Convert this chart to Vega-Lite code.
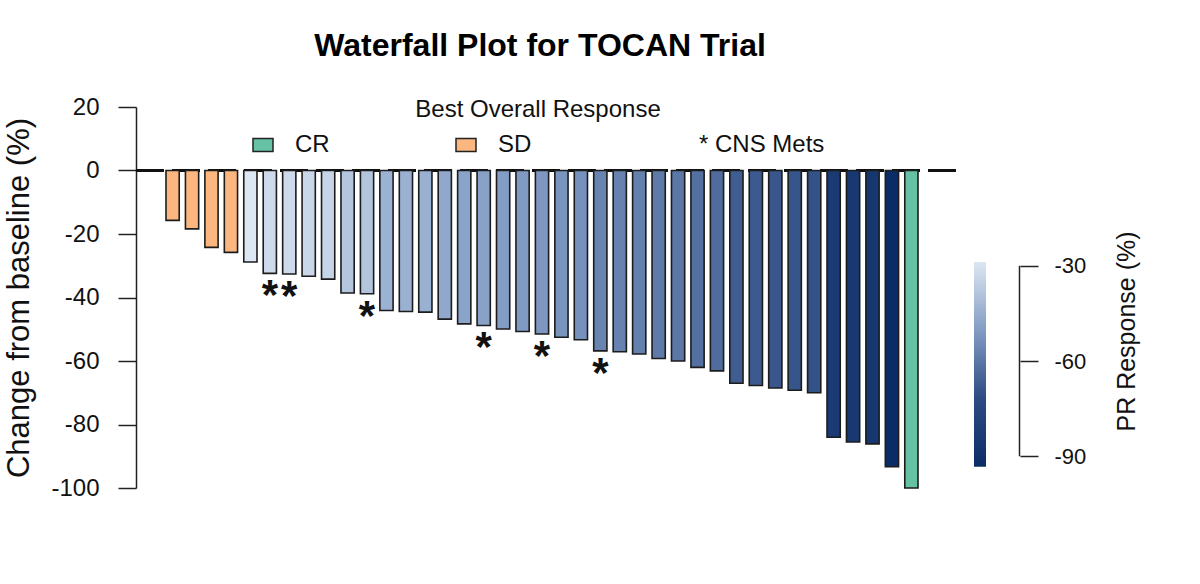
{
  "$schema": "https://vega.github.io/schema/vega-lite/v6.json",
  "autosize": {"type": "pad"},
  "padding": {"left": 3, "top": 30, "right": 5, "bottom": 5},
  "background": "white",
  "config": {
    "font": "Liberation Sans",
    "view": {"stroke": null},
    "axis": {"labelColor": "#111", "titleColor": "#111", "domainColor": "#222", "tickColor": "#222"}
  },
  "datasets": {
    "patients": [
      {"id": 1, "change": -15.7, "resp": "SD", "cns": false},
      {"id": 2, "change": -18.4, "resp": "SD", "cns": false},
      {"id": 3, "change": -24.2, "resp": "SD", "cns": false},
      {"id": 4, "change": -25.8, "resp": "SD", "cns": false},
      {"id": 5, "change": -28.8, "resp": "PR", "cns": false},
      {"id": 6, "change": -32.4, "resp": "PR", "cns": true},
      {"id": 7, "change": -32.6, "resp": "PR", "cns": true},
      {"id": 8, "change": -33.3, "resp": "PR", "cns": false},
      {"id": 9, "change": -34.2, "resp": "PR", "cns": false},
      {"id": 10, "change": -38.6, "resp": "PR", "cns": false},
      {"id": 11, "change": -38.8, "resp": "PR", "cns": true},
      {"id": 12, "change": -44.1, "resp": "PR", "cns": false},
      {"id": 13, "change": -44.4, "resp": "PR", "cns": false},
      {"id": 14, "change": -44.6, "resp": "PR", "cns": false},
      {"id": 15, "change": -46.8, "resp": "PR", "cns": false},
      {"id": 16, "change": -48.3, "resp": "PR", "cns": false},
      {"id": 17, "change": -48.8, "resp": "PR", "cns": true},
      {"id": 18, "change": -49.9, "resp": "PR", "cns": false},
      {"id": 19, "change": -50.7, "resp": "PR", "cns": false},
      {"id": 20, "change": -51.5, "resp": "PR", "cns": true},
      {"id": 21, "change": -52.5, "resp": "PR", "cns": false},
      {"id": 22, "change": -53.3, "resp": "PR", "cns": false},
      {"id": 23, "change": -56.8, "resp": "PR", "cns": true},
      {"id": 24, "change": -57.1, "resp": "PR", "cns": false},
      {"id": 25, "change": -57.8, "resp": "PR", "cns": false},
      {"id": 26, "change": -59.2, "resp": "PR", "cns": false},
      {"id": 27, "change": -60.0, "resp": "PR", "cns": false},
      {"id": 28, "change": -62.0, "resp": "PR", "cns": false},
      {"id": 29, "change": -63.1, "resp": "PR", "cns": false},
      {"id": 30, "change": -67.0, "resp": "PR", "cns": false},
      {"id": 31, "change": -67.7, "resp": "PR", "cns": false},
      {"id": 32, "change": -68.5, "resp": "PR", "cns": false},
      {"id": 33, "change": -69.2, "resp": "PR", "cns": false},
      {"id": 34, "change": -70.0, "resp": "PR", "cns": false},
      {"id": 35, "change": -84.0, "resp": "PR", "cns": false},
      {"id": 36, "change": -85.5, "resp": "PR", "cns": false},
      {"id": 37, "change": -86.1, "resp": "PR", "cns": false},
      {"id": 38, "change": -93.3, "resp": "PR", "cns": false},
      {"id": 39, "change": -100.0, "resp": "CR", "cns": false}
    ],
    "cbticks": [{"v": -30}, {"v": -60}, {"v": -90}]
  },
  "spacing": 18,
  "bounds": "flush",
  "hconcat": [
    {
      "width": 820,
      "height": 381,
      "data": {"name": "patients"},
      "title": {
        "text": "Waterfall Plot for TOCAN Trial",
        "fontSize": 32,
        "fontWeight": "bold",
        "anchor": "middle",
        "frame": "group",
        "baseline": "alphabetic",
        "offset": 7,
        "dx": -6,
        "color": "#000"
      },
      "layer": [
        {
          "mark": {"type": "rule", "strokeDash": [28, 8], "strokeWidth": 2, "color": "#111"},
          "encoding": {"y": {"datum": 0, "type": "quantitative"}}
        },
        {
          "transform": [{"filter": "datum.resp === 'PR'"}],
          "mark": {"type": "bar", "stroke": "#1c1c1c", "strokeWidth": 1.6},
          "encoding": {
            "x": {"field": "id", "type": "ordinal", "axis": null, "scale": {"range": [30, 782], "paddingInner": 0.32, "paddingOuter": 0}},
            "y": {
              "field": "change", "type": "quantitative",
              "scale": {"domain": [-100, 20], "nice": false, "zero": false},
              "axis": {
                "orient": "left", "values": [20, 0, -20, -40, -60, -80, -100], "grid": false,
                "domain": true, "domainWidth": 1.5, "tickSize": 18, "tickWidth": 1.5,
                "labelFontSize": 24, "labelPadding": 19, "labelFlush": false,
                "labelExpr": "'' + datum.value",
                "title": "Change from baseline (%)", "titleFontSize": 31, "titleFontWeight": "normal", "titlePadding": 15
              }
            },
            "fill": {
              "field": "change", "type": "quantitative",
              "scale": {"range": ["#0b2d66", "#2c4b82", "#829cc4", "#dde7f3"], "interpolate": "rgb"},
              "legend": null
            }
          }
        },
        {
          "transform": [{"filter": "datum.resp !== 'PR'"}],
          "mark": {"type": "bar", "stroke": "#1c1c1c", "strokeWidth": 1.6},
          "encoding": {
            "x": {"field": "id", "type": "ordinal", "axis": null},
            "y": {"field": "change", "type": "quantitative"},
            "fill": {
              "field": "resp", "type": "nominal",
              "scale": {"domain": ["CR", "SD", "* CNS Mets"], "range": ["#66c2a5", "#fbb77f", "#ffffff"]},
              "legend": {
                "orient": "none", "legendX": 115, "legendY": -9, "direction": "horizontal", "columns": 3,
                "padding": 0,
                "title": "Best Overall Response", "titleFontSize": 24, "titleFontWeight": "normal",
                "titleAnchor": "middle", "titlePadding": 11, "titleColor": "#111", "titleLimit": 500,
                "symbolType": "M-1,-0.65H1V0.65H-1Z", "symbolSize": 400,
                "symbolStrokeColor": "#222", "symbolStrokeWidth": 1.5,
                "labelFontSize": 24, "labelOffset": 20, "columnPadding": 123, "labelColor": "#111", "labelLimit": 300,
                "encode": {"symbols": {"update": {"opacity": {"signal": "datum.value === '* CNS Mets' ? 0 : 1"}}}}
              }
            }
          }
        },
        {
          "transform": [{"filter": "datum.cns"}],
          "mark": {"type": "text", "text": "*", "fontSize": 42, "fontWeight": "bold", "baseline": "alphabetic", "align": "center", "dy": 36, "color": "#111"},
          "encoding": {
            "x": {"field": "id", "type": "ordinal", "axis": null},
            "y": {"field": "change", "type": "quantitative"}
          }
        }
      ],
      "resolve": {"scale": {"fill": "independent"}}
    },
    {
      "spacing": 33,
      "bounds": "flush",
      "hconcat": [
        {
          "width": 12,
          "height": 381,
          "data": {"name": "patients"},
          "transform": [{"filter": "datum.resp === 'PR'"}],
          "mark": {
            "type": "rect",
            "color": {
              "gradient": "linear", "x1": 0, "y1": 0, "x2": 0, "y2": 1,
              "stops": [
                {"offset": 0, "color": "#dde7f3"},
                {"offset": 0.333, "color": "#829cc4"},
                {"offset": 0.667, "color": "#2c4b82"},
                {"offset": 1, "color": "#0b2d66"}
              ]
            }
          },
          "encoding": {
            "y": {"aggregate": "max", "field": "change", "type": "quantitative", "scale": {"domain": [-100, 20], "nice": false, "zero": false}, "axis": null},
            "y2": {"aggregate": "min", "field": "change"}
          }
        },
        {
          "width": 1,
          "height": 381,
          "data": {"name": "cbticks"},
          "mark": {"type": "rule", "color": "#222", "strokeWidth": 1.5},
          "encoding": {
            "y": {
              "aggregate": "max", "field": "v", "type": "quantitative",
              "scale": {"domain": [-100, 20], "nice": false, "zero": false},
              "axis": {
                "orient": "right", "values": [-30, -60, -90], "domain": false, "grid": false,
                "tickSize": 18, "tickWidth": 1.5, "labelFontSize": 22, "labelPadding": 16, "labelFlush": false,
                "labelExpr": "'' + datum.value",
                "title": "PR Response (%)", "titleFontSize": 25, "titleFontWeight": "normal",
                "titleAngle": 270, "titleBaseline": "top", "titlePadding": 29, "titleY": 224, "titleAlign": "center"
              }
            },
            "y2": {"aggregate": "min", "field": "v"}
          }
        }
      ]
    }
  ]
}
